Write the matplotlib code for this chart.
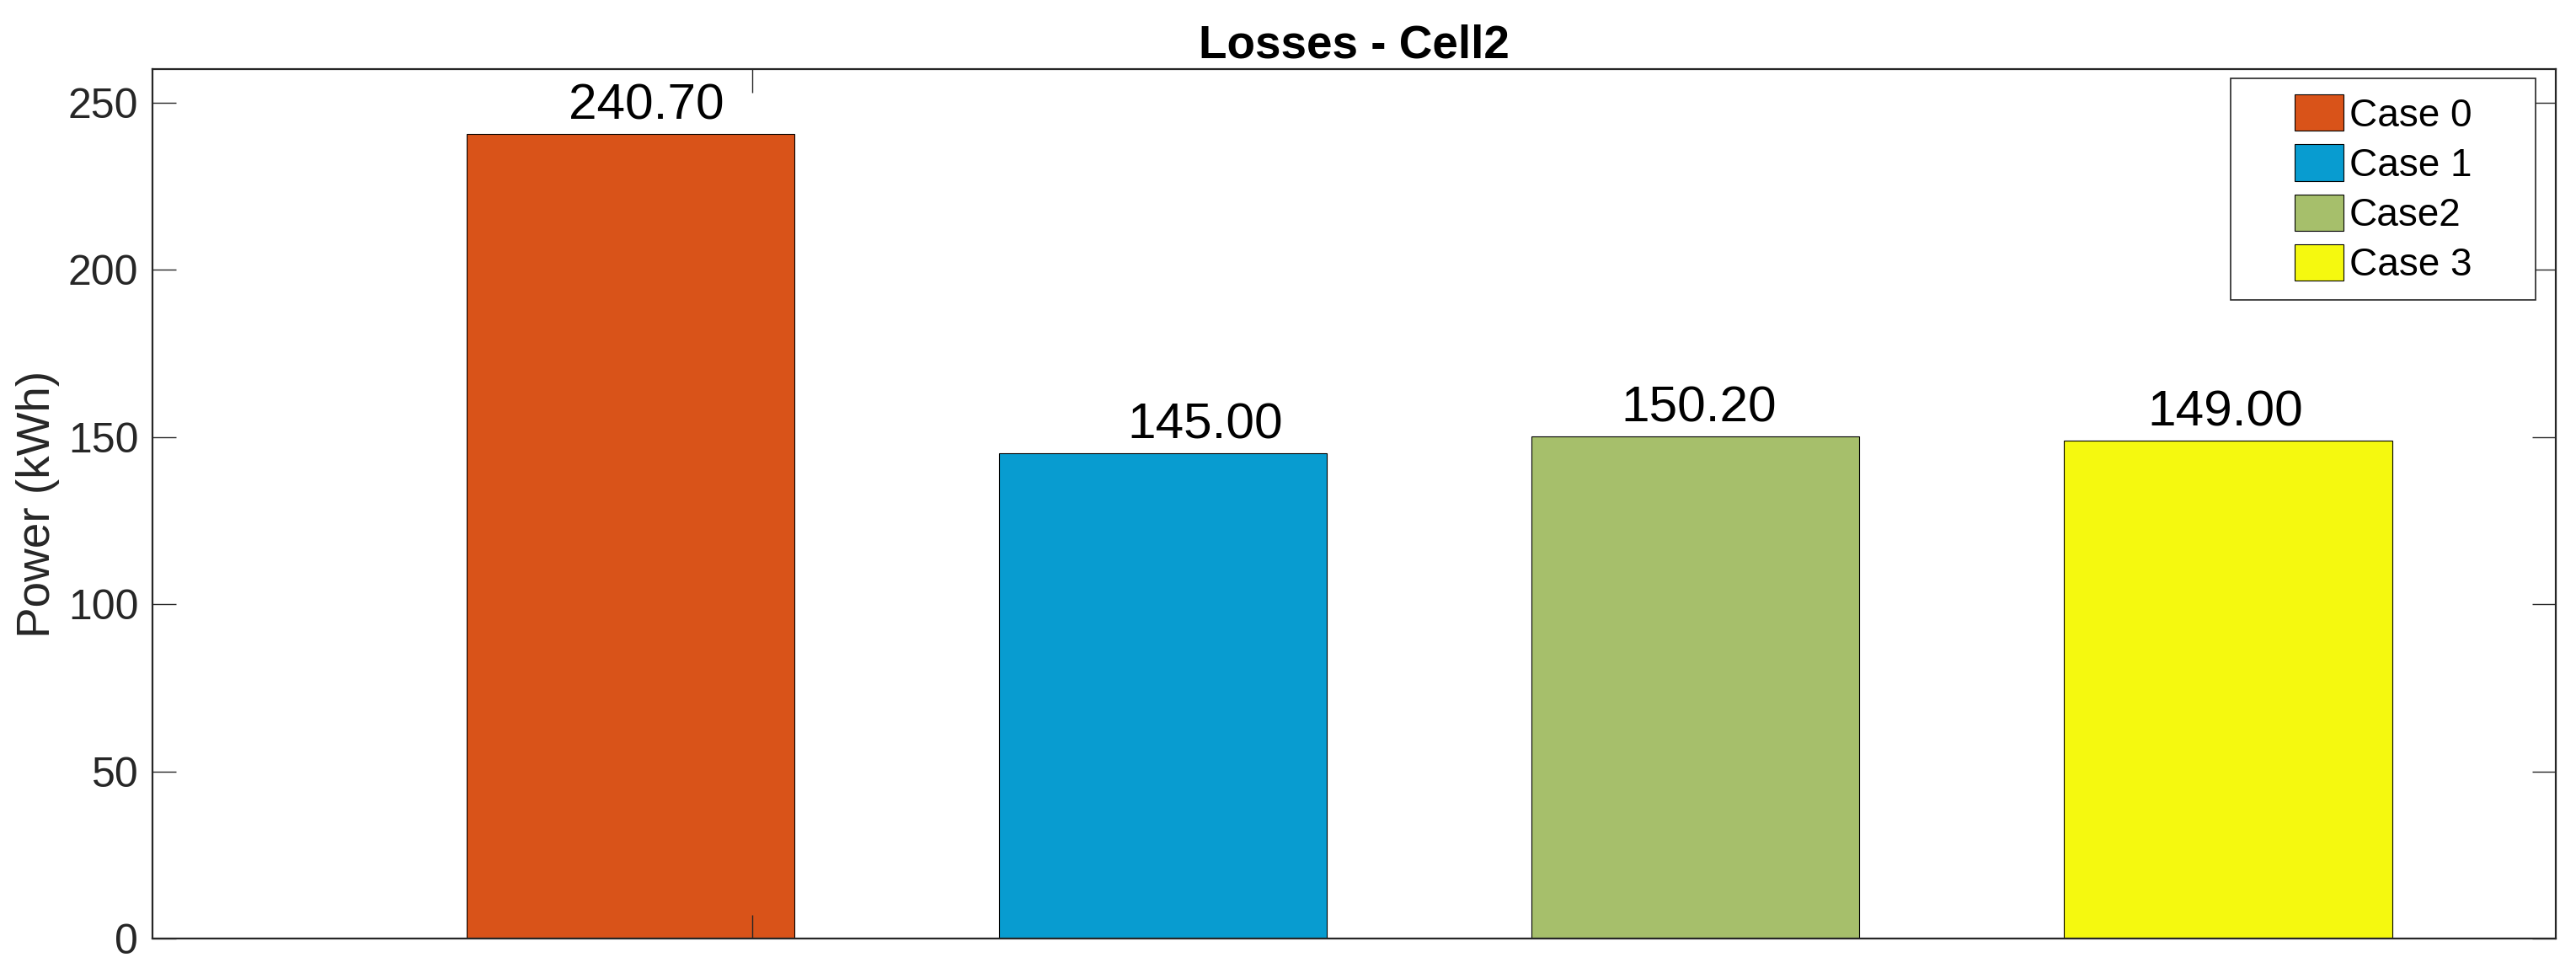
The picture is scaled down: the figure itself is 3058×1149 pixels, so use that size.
import matplotlib
matplotlib.use('Agg')
import numpy as np
import matplotlib.pyplot as plt
from matplotlib.patches import Rectangle

# data
cases = ["Case 0", "Case 1", "Case2", "Case 3"]
losses = [240.70, 145.00, 150.20, 149.00]
colors = ["#D95319", "#089CD0", "#A6BF6B", "#F5F90F"]
yticks = [0, 50, 100, 150, 200, 250]

plt.rcParams['font.family'] = ['Liberation Sans', 'DejaVu Sans']
ink = '#262626'

fig = plt.figure(figsize=(30.58, 11.49), dpi=100)
ax = fig.add_axes([0.0592, 0.0305, 0.9922 - 0.0592, 0.9286 - 0.0305])

x = np.arange(len(losses))
for i in range(len(losses)):
    ax.bar(x[i], losses[i], width=0.6155, color=colors[i],
           edgecolor='black', linewidth=0.8, label=cases[i])

# value labels (nudged sideways like the original)
label_dx = [14, 36, 2.5, -2]
for i in range(len(losses)):
    ax.annotate('%.2f' % losses[i], (x[i], losses[i]),
                xytext=(label_dx[i], 4), textcoords='offset points',
                ha='center', va='bottom', fontsize=43.5, color='black')

ax.set_xlim(-0.897, 3.6155)
ax.set_ylim(0, 260)
ax.set_yticks(yticks)
ax.set_xticks([0.229])
ax.set_xticklabels([''])
ax.tick_params(axis='both', direction='in', length=20, width=1.0,
               colors=ink, labelsize=36, top=True, right=True, pad=12)
for s in ax.spines.values():
    s.set_linewidth(1.6)
    s.set_color(ink)

ax.set_ylabel('Power (kWh)', fontsize=39.5, color=ink, labelpad=7)
ax.set_title('Losses - Cell2', fontsize=39.5, fontweight='bold', color='black', pad=10)

# legend: MATLAB style box, entries centred inside
fx0, fx1, fy0, fy1 = 0.8647, 0.9916, 0.7345, 0.9893
ax.add_patch(Rectangle((fx0, fy0), fx1 - fx0, fy1 - fy0, transform=ax.transAxes,
                       facecolor='white', edgecolor=ink, linewidth=1.2, zorder=5))
leg = ax.legend(loc='center', bbox_to_anchor=((fx0 + fx1) / 2, (fy0 + fy1) / 2),
                frameon=False, fontsize=33, handlelength=1.27, handleheight=1.07,
                handletextpad=0.15, labelspacing=0.26, borderpad=0)
leg.set_zorder(6)

fig.savefig('out.png', dpi=100)
